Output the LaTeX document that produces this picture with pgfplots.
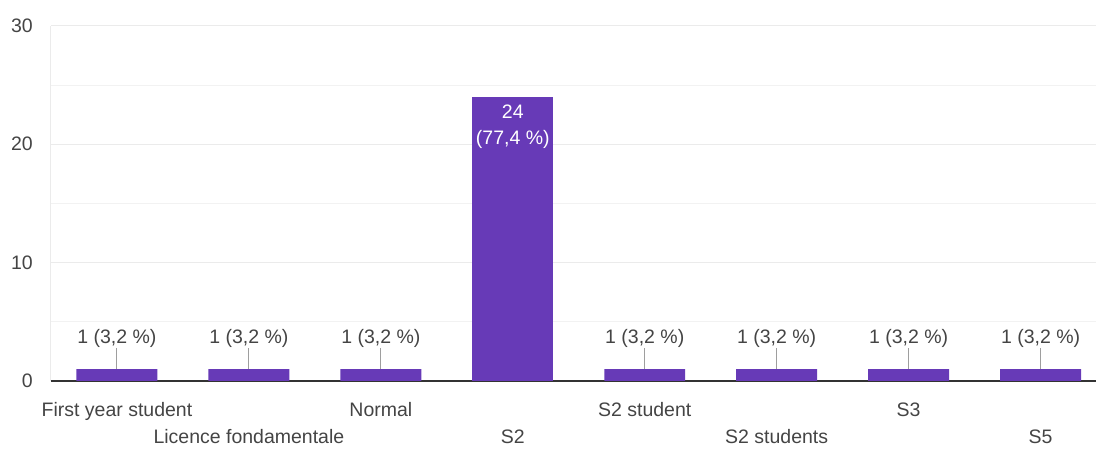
\documentclass[border=0pt]{standalone}
\usepackage{pgfplots}
\pgfplotsset{compat=1.18}
\usepackage{fontspec}
\setmainfont{Liberation Sans}
\definecolor{barc}{HTML}{673AB7}
\definecolor{txt}{HTML}{444444}
\definecolor{gridc}{HTML}{EBEBEB}
\definecolor{gridm}{HTML}{F2F2F2}
\definecolor{lead}{HTML}{9E9E9E}
\definecolor{zero}{HTML}{333333}
\newcommand{\pct}[1]{\pgfmathfloattofixed{#1}\pgfmathparse{\pgfmathresult/31*100}\pgfmathprintnumber[fixed,fixed zerofill,precision=1,use comma]{\pgfmathresult}}
\begin{document}
\begin{tikzpicture}
\begin{axis}[
  scale only axis,
  width=1045.4pt, height=355pt,
  xmin=-0.5, xmax=7.42,
  ymin=0, ymax=30,
  ybar, bar width=81pt, bar shift=0pt,
  axis x line*=bottom, axis y line*=left,
  axis line style={-},
  x axis line style={draw=zero, line width=1.4pt},
  y axis line style={draw=gridc, line width=1pt},
  major tick length=0pt, minor tick length=0pt,
  tick style={draw=none},
  ytick={0,10,20,30},
  minor ytick={5,15,25},
  ymajorgrids, yminorgrids,
  major grid style={draw=gridc, line width=1pt},
  minor grid style={draw=gridm, line width=1pt},
  /pgf/number format/assume math mode=true,
  yticklabel style={font=\fontsize{19.5}{24}\selectfont, text=txt, inner sep=0pt, anchor=east, xshift=-18pt},
  xtick={0,1,2,3,4,5,6,7},
  xticklabels={
    {\strut First year student},
    {\strut\\Licence fondamentale},
    {\strut Normal},
    {\strut\\S2},
    {\strut S2 student},
    {\strut\\S2 students},
    {\strut S3},
    {\strut\\S5}},
  xticklabel style={font=\fontsize{19.5}{27}\selectfont, text=txt, inner sep=0pt, anchor=north, align=center, yshift=-17pt},
  clip=false,
]
\addplot[fill=barc, draw=none, point meta=y,
  nodes near coords={\pgfmathprintnumber{\pgfplotspointmeta} (\pct{\pgfplotspointmeta}\ \%)\\[-1pt]{\color{lead}\rule{1pt}{21pt}}},
  every node near coord/.style={anchor=south, inner sep=0pt, align=center, text=txt, font=\fontsize{19.5}{24}\selectfont, yshift=0pt},
] coordinates {(0,1) (1,1) (2,1) (4,1) (5,1) (6,1) (7,1)};
\addplot[fill=barc, draw=none, point meta=y,
  nodes near coords={\pgfmathprintnumber{\pgfplotspointmeta}\\(\pct{\pgfplotspointmeta}\ \%)},
  every node near coord/.style={anchor=north, inner sep=0pt, align=center, text=white, font=\fontsize{19.5}{26}\selectfont, yshift=-8pt},
] coordinates {(3,24)};
\end{axis}
\pgfresetboundingbox
\path ([xshift=-51pt,yshift=-69pt]current axis.south west) rectangle ([xshift=1pt,yshift=26pt]current axis.north east);
\end{tikzpicture}
\end{document}
